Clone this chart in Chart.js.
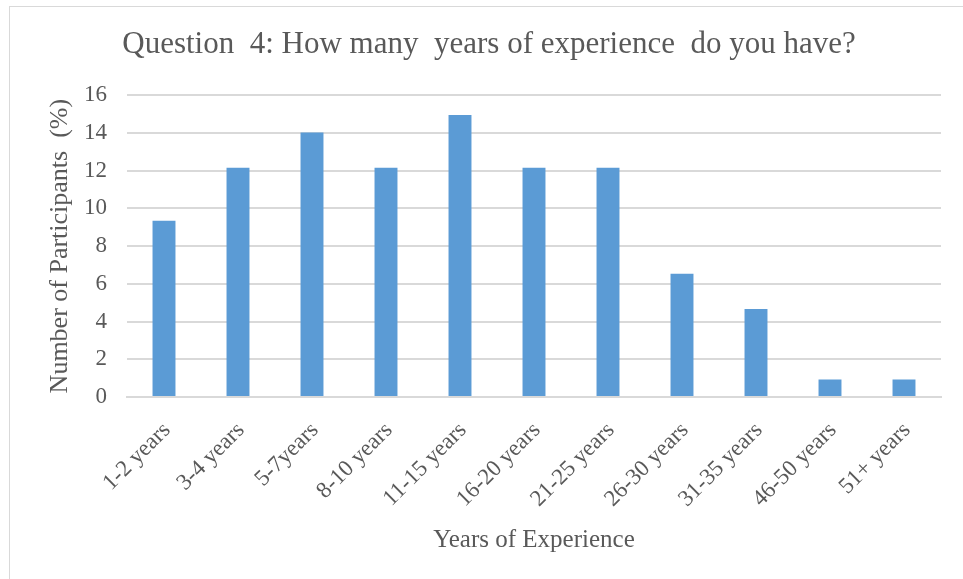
<!DOCTYPE html>
<html>
<head>
<meta charset="utf-8">
<script src="https://cdn.jsdelivr.net/npm/chart.js@4.4.1/dist/chart.umd.min.js"></script>
<style>
  html, body { margin: 0; padding: 0; background: #ffffff; overflow: hidden; }
  #wrap { position: relative; width: 963px; height: 579px; }
  #frame { position: absolute; left: 9px; top: 6px; width: 980px; height: 600px;
           border: 1px solid #d9d9d9; box-sizing: border-box; pointer-events: none; }
  canvas { position: absolute; left: 0; top: 0; }
</style>
</head>
<body>
<div id="wrap">
  <canvas id="chart" width="963" height="579"></canvas>
  <div id="frame"></div>
</div>
<script>
// Experience bands and share of participants (%)
const categories = ['1-2 years', '3-4 years', '5-7years', '8-10 years', '11-15 years', '16-20 years',
                    '21-25 years', '26-30 years', '31-35 years', '46-50 years', '51+ years'];
const participantsPct = [9.35, 12.15, 14.02, 12.15, 14.95, 12.15, 12.15, 6.54, 4.67, 0.93, 0.93];
const yTicks = [0, 2, 4, 6, 8, 10, 12, 14, 16];

const FONT = "'Liberation Serif', 'Times New Roman', serif";
const TEXT = '#595959';
const GRID = '#d9d9d9';

new Chart(document.getElementById('chart'), {
  type: 'bar',
  data: {
    labels: categories,
    datasets: [{
      data: participantsPct,
      backgroundColor: '#5b9bd5',
      borderWidth: 0,
      barPercentage: 1,
      categoryPercentage: 0.31
    }]
  },
  options: {
    responsive: false,
    animation: false,
    layout: { padding: { left: 37, right: 22, top: 6, bottom: 0 } },
    plugins: {
      legend: { display: false },
      tooltip: { enabled: false },
      title: {
        display: true,
        text: 'Question  4: How many  years of experience  do you have?',
        color: TEXT,
        font: { family: FONT, size: 31, weight: 'normal' },
        padding: { top: 20, bottom: 32 }
      }
    },
    scales: {
      x: {
        grid: { display: false, drawTicks: false },
        border: { display: true, color: GRID, width: 2 },
        ticks: {
          color: TEXT,
          font: { family: FONT, size: 23 },
          minRotation: 45,
          maxRotation: 45,
          padding: 20,
          labelOffset: 3,
          autoSkip: false
        },
        title: {
          display: true,
          text: 'Years of Experience',
          color: TEXT,
          font: { family: FONT, size: 25 },
          padding: { top: 0, bottom: 24 }
        },
        afterFit: (scale) => { scale.height = 182; }
      },
      y: {
        min: 0,
        max: 16,
        afterBuildTicks: (scale) => { scale.ticks = yTicks.map(v => ({ value: v })); },
        grid: { color: GRID, lineWidth: 2, drawTicks: false },
        border: { display: false },
        ticks: {
          color: TEXT,
          font: { family: FONT, size: 23 },
          padding: 20
        },
        title: {
          display: true,
          text: 'Number of Participants  (%)',
          color: TEXT,
          font: { family: FONT, size: 26 },
          padding: { top: 8, bottom: 0 }
        },
        afterFit: (scale) => { scale.width = 90; }
      }
    }
  }
});
</script>
</body>
</html>
